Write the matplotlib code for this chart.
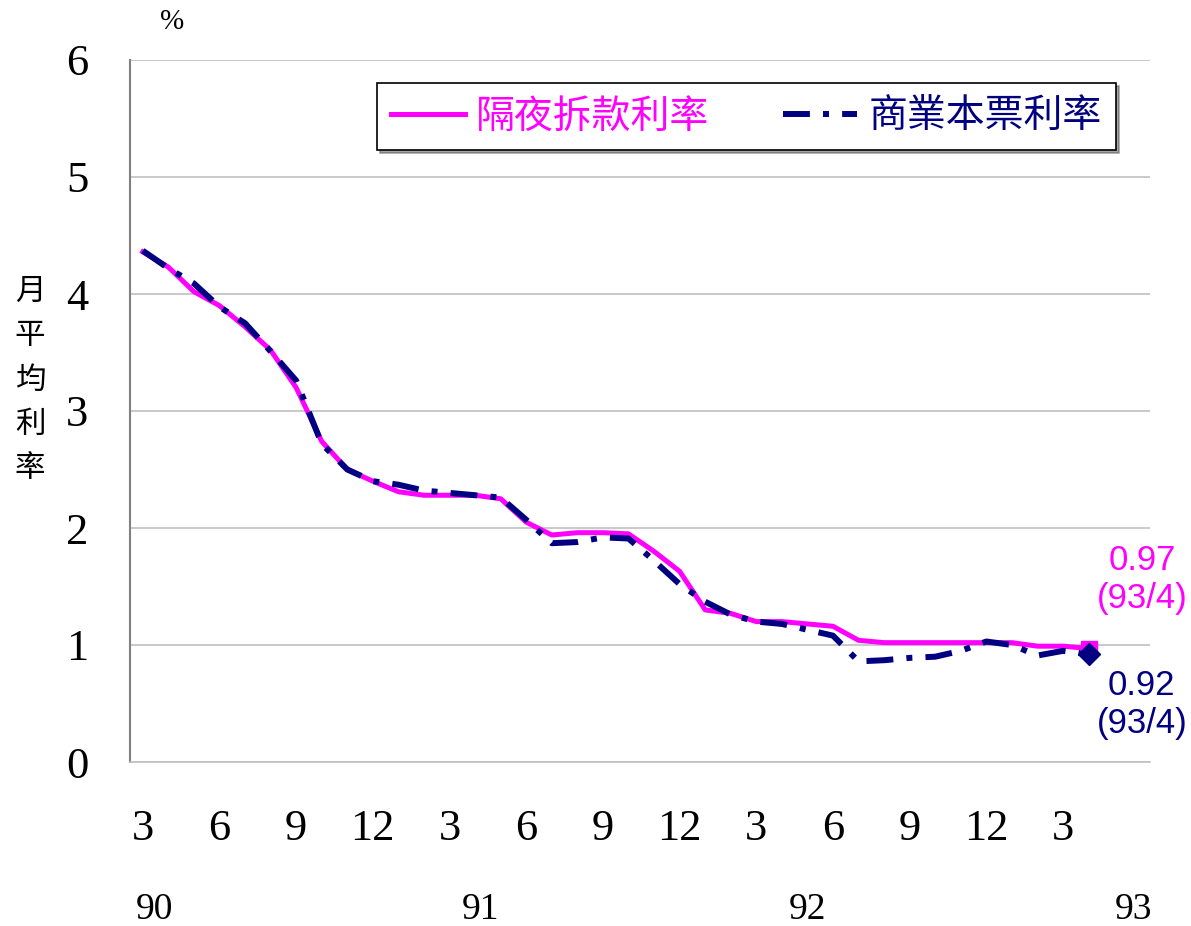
import matplotlib
matplotlib.use("Agg")
import matplotlib.pyplot as plt
from matplotlib.transforms import blended_transform_factory

# monthly averages, 90/3 .. 93/4 (ROC years)
overnight = [4.36, 4.23, 4.02, 3.90, 3.72, 3.52, 3.20, 2.74, 2.50, 2.40,
             2.31, 2.28, 2.28, 2.28, 2.25, 2.05, 1.94, 1.96, 1.96, 1.95,
             1.80, 1.63, 1.30, 1.27, 1.20, 1.20, 1.18, 1.16, 1.04, 1.02,
             1.02, 1.02, 1.02, 1.02, 1.02, 0.99, 0.99, 0.97]
cp_rate = [4.37, 4.22, 4.09, 3.89, 3.75, 3.51, 3.26, 2.72, 2.50, 2.40,
           2.37, 2.32, 2.30, 2.28, 2.26, 2.07, 1.87, 1.88, 1.92, 1.91,
           1.72, 1.52, 1.37, 1.26, 1.20, 1.18, 1.13, 1.08, 0.86, 0.87,
           0.89, 0.90, 0.95, 1.03, 1.00, 0.91, 0.95, 0.92]
month_labels = ["3", "6", "9", "12", "3", "6", "9", "12", "3", "6", "9", "12", "3"]
year_labels = ["90", "91", "92", "93"]
year_pos = [0.47, 13.2, 26.0, 38.76]

MAGENTA = "#FF00FF"
NAVY = "#000080"
CJK = ["Noto Sans CJK TC", "DejaVu Sans"]
SERIF = "Liberation Serif"

x = list(range(len(overnight)))

fig = plt.figure(figsize=(11.91, 9.26), dpi=100)
ax = fig.add_axes([130 / 1191, 164 / 926, 1020 / 1191, 702 / 926])

ax.plot(x, overnight, color=MAGENTA, lw=3.6, solid_joinstyle="round",
        label="隔夜拆款利率")
ax.plot(x, cp_rate, color=NAVY, lw=4.3, linestyle=(0, (4.5, 2.2, 1.0, 2.2)),
        dash_capstyle="butt", label="商業本票利率")
ax.plot(x[-1], overnight[-1], marker="s", ms=11, color=MAGENTA, clip_on=False)
ax.plot(x[-1], cp_rate[-1], marker="D", ms=11, color=NAVY, clip_on=False)

ax.set_xlim(-0.5, 39.4)
ax.set_ylim(0, 6)
ax.set_yticks(range(0, 7))
ax.set_yticklabels([str(v) for v in range(0, 7)], fontfamily=SERIF, fontsize=32)
ax.set_xticks(x[::3])
ax.set_xticklabels(month_labels, fontfamily=SERIF, fontsize=32)
ax.tick_params(axis="x", length=0, pad=34)
ax.tick_params(axis="y", length=0, pad=30)

ax.grid(axis="y", color="#C0C0C0", lw=1.2)
ax.set_axisbelow(True)
for side in ["top", "right"]:
    ax.spines[side].set_visible(False)
ax.spines["left"].set_color("#808080")
ax.spines["left"].set_linewidth(1.5)
ax.spines["bottom"].set_color("#C0C0C0")
ax.spines["bottom"].set_linewidth(1.2)

trans = blended_transform_factory(ax.transData, ax.transAxes)
for pos, lab in zip(year_pos, year_labels):
    ax.text(pos, -0.211, lab, transform=trans, ha="center", va="center",
            fontfamily=SERIF, fontsize=27)

# end-of-series labels
ax.text(39.08, 1.56, "%.2f\n(93/4)" % overnight[-1], color=MAGENTA, ha="center",
        va="center", fontfamily="Liberation Sans", fontsize=25,
        linespacing=1.2, clip_on=False)
ax.text(39.08, 0.49, "%.2f\n(93/4)" % cp_rate[-1], color=NAVY, ha="center",
        va="center", fontfamily="Liberation Sans", fontsize=25,
        linespacing=1.2, clip_on=False)

fig.text(172 / 1191, 1 - 22 / 926, "%", ha="center", va="center",
         fontfamily=SERIF, fontsize=21)
fig.text(30 / 1191, 1 - 380 / 926, "\n".join("月平均利率"), ha="center",
         va="center", fontfamily=CJK, fontsize=22, linespacing=1.55)

leg = ax.legend(loc="upper left", bbox_to_anchor=(377 / 1191, 1 - 83 / 926),
                bbox_transform=fig.transFigure, ncol=2, frameon=True,
                fancybox=False, shadow=True, prop={"family": CJK, "size": 28},
                handlelength=1.9, columnspacing=1.9, borderpad=0.35,
                handletextpad=0.3, borderaxespad=0)
leg.get_frame().set_edgecolor("black")
leg.get_frame().set_linewidth(1.2)
for txt, col in zip(leg.get_texts(), [MAGENTA, NAVY]):
    txt.set_color(col)

fig.savefig("out.png", dpi=100)
